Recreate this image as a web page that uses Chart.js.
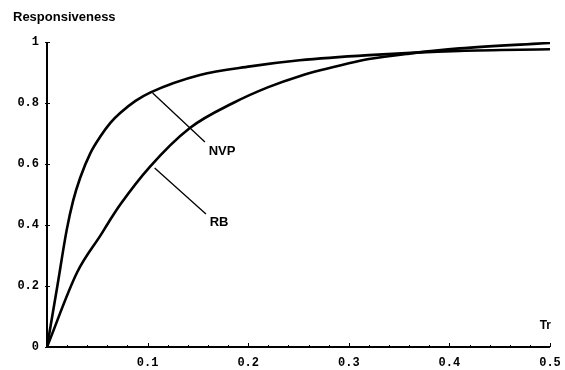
<!DOCTYPE html>
<html>
<head>
<meta charset="utf-8">
<script src="https://cdn.jsdelivr.net/npm/chart.js@4/dist/chart.umd.min.js"></script>
<style>
  html, body { margin: 0; padding: 0; background: #fff; }
  #wrap { position: relative; width: 565px; height: 370px; }
</style>
</head>
<body>
<div id="wrap"><canvas id="c" width="565" height="370"></canvas></div>
<script>
// ---- data ----
const nvpX = [0, 0.0103, 0.0196, 0.026, 0.033, 0.043, 0.053, 0.063, 0.073, 0.088, 0.103, 0.152, 0.202, 0.251, 0.32, 0.41, 0.5];
const nvpY = [0, 0.20, 0.384, 0.48, 0.555, 0.635, 0.69, 0.735, 0.768, 0.807, 0.835, 0.892, 0.92, 0.94, 0.957, 0.971, 0.976];
const rbX = [0, 0.03, 0.054, 0.063, 0.073, 0.102, 0.142, 0.185, 0.22, 0.251, 0.30, 0.32, 0.36, 0.41, 0.5];
const rbY = [0, 0.245, 0.37, 0.418, 0.468, 0.59, 0.718, 0.80, 0.852, 0.888, 0.93, 0.944, 0.962, 0.979, 0.997];
const xTickLabels = ['0.1', '0.2', '0.3', '0.4', '0.5'];
const yTickLabels = ['0', '0.2', '0.4', '0.6', '0.8', '1'];
const seriesNames = ['NVP', 'RB'];
// annotation leader lines [x1, y1, x2, y2] and label anchors [x, y] in data units
const leaderNVP = [0.105, 0.833, 0.157, 0.672];
const leaderRB = [0.107, 0.587, 0.158, 0.436];
const labelNVP = [0.174, 0.64];
const labelRB = [0.171, 0.407];
const yTitle = 'Responsiveness';
const xTitle = 'Tr';

const toPts = (xs, ys) => xs.map((x, i) => ({ x: x, y: ys[i] }));

const tickFont = 'bold 12px "Liberation Mono", "DejaVu Sans Mono", monospace';

const decor = {
  id: 'decor',
  afterDraw(chart) {
    const ctx = chart.ctx;
    const xs = chart.scales.x, ys = chart.scales.y;
    const x0 = xs.getPixelForValue(0), y0 = ys.getPixelForValue(0);
    ctx.save();
    ctx.strokeStyle = '#000';
    // axes
    ctx.lineWidth = 2;
    ctx.beginPath();
    ctx.moveTo(x0, ys.getPixelForValue(1));
    ctx.lineTo(x0, y0);
    ctx.lineTo(xs.getPixelForValue(0.5), y0);
    ctx.stroke();
    // x ticks (inside, upward)
    ctx.lineWidth = 1;
    for (let i = 1; i <= 25; i++) {
      const v = i * 0.02;
      const px = Math.round(xs.getPixelForValue(v)) + 0.5;
      const len = (i % 5 === 0) ? 4 : 2;
      ctx.beginPath();
      ctx.moveTo(px, y0);
      ctx.lineTo(px, y0 - len);
      ctx.stroke();
    }
    // y ticks
    yTickLabels.forEach((t) => {
      const py = Math.round(ys.getPixelForValue(parseFloat(t))) + 0.5;
      ctx.beginPath();
      ctx.moveTo(x0 - 2, py);
      ctx.lineTo(x0 + 3, py);
      ctx.stroke();
    });
    // tick labels
    ctx.fillStyle = '#000';
    ctx.font = tickFont;
    ctx.textAlign = 'center';
    ctx.textBaseline = 'middle';
    xTickLabels.forEach((t) => {
      ctx.fillText(t, xs.getPixelForValue(parseFloat(t)), y0 + 16);
    });
    ctx.textAlign = 'right';
    yTickLabels.forEach((t) => {
      ctx.fillText(t, x0 - 8, ys.getPixelForValue(parseFloat(t)));
    });
    // leader lines
    ctx.lineWidth = 1.3;
    [leaderNVP, leaderRB].forEach((l) => {
      ctx.beginPath();
      ctx.moveTo(xs.getPixelForValue(l[0]), ys.getPixelForValue(l[1]));
      ctx.lineTo(xs.getPixelForValue(l[2]), ys.getPixelForValue(l[3]));
      ctx.stroke();
    });
    // series labels
    ctx.font = 'bold 13px "Liberation Sans", Arial, sans-serif';
    ctx.textAlign = 'center';
    ctx.fillText(seriesNames[0], xs.getPixelForValue(labelNVP[0]), ys.getPixelForValue(labelNVP[1]));
    ctx.fillText(seriesNames[1], xs.getPixelForValue(labelRB[0]), ys.getPixelForValue(labelRB[1]));
    // titles
    ctx.textAlign = 'left';
    ctx.font = 'bold 13px "Liberation Sans", Arial, sans-serif';
    ctx.fillText(yTitle, 13, 17);
    ctx.textAlign = 'right';
    ctx.font = 'bold 12px "Liberation Sans", Arial, sans-serif';
    ctx.fillText(xTitle, xs.getPixelForValue(0.5) + 1, y0 - 21);
    ctx.restore();
  }
};

new Chart(document.getElementById('c'), {
  type: 'line',
  data: {
    datasets: [
      { label: seriesNames[0], data: toPts(nvpX, nvpY), borderColor: '#000', borderWidth: 2.6,
        pointRadius: 0, cubicInterpolationMode: 'monotone', fill: false },
      { label: seriesNames[1], data: toPts(rbX, rbY), borderColor: '#000', borderWidth: 2.6,
        pointRadius: 0, cubicInterpolationMode: 'monotone', fill: false }
    ]
  },
  options: {
    responsive: false,
    animation: false,
    layout: { padding: { left: 0, top: 42, right: 15, bottom: 0 } },
    plugins: { legend: { display: false }, tooltip: { enabled: false } },
    scales: {
      x: {
        type: 'linear', min: 0, max: 0.5,
        grid: { display: false, drawTicks: false },
        border: { display: false },
        ticks: { display: false },
        afterFit(s) { s.height = 23; }
      },
      y: {
        type: 'linear', min: 0, max: 1,
        grid: { display: false, drawTicks: false },
        border: { display: false },
        ticks: { display: false },
        afterFit(s) { s.width = 47; }
      }
    }
  },
  plugins: [decor]
});
</script>
</body>
</html>
